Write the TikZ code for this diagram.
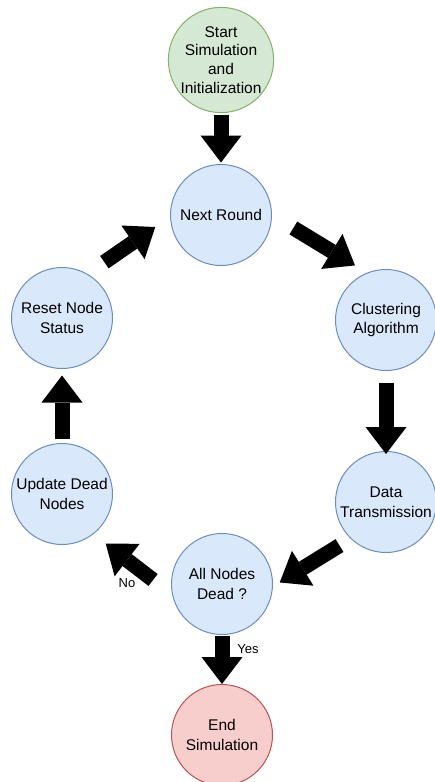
\documentclass[tikz,border=0pt]{standalone}
\usepackage{fontspec}
\setmainfont{Liberation Sans}
\usepackage{tikz}
\usepackage{xcolor}
\usetikzlibrary{arrows.meta}
\definecolor{gfill}{HTML}{D5E8D4}
\definecolor{gline}{HTML}{82B366}
\definecolor{bfill}{HTML}{DAE8FC}
\definecolor{bline}{HTML}{6C8EBF}
\definecolor{rfill}{HTML}{F8CECC}
\definecolor{rline}{HTML}{B85450}
\tikzstyle{stateS}	=[circle,draw=gline,fill=gfill,line width=1pt,minimum size=101pt,inner sep=0pt,align=center,font=\fontsize{15.5}{18.7}\selectfont]
\tikzstyle{stateB}	=[circle,draw=bline,fill=bfill,line width=1pt,minimum size=101pt,inner sep=0pt,align=center,font=\fontsize{15.5}{19.5}\selectfont]
\tikzstyle{stateE}	=[circle,draw=rline,fill=rfill,line width=1pt,minimum size=101pt,inner sep=0pt,align=center,font=\fontsize{15.5}{19.5}\selectfont]
\tikzstyle{lbl}		=[inner sep=0pt,font=\fontsize{13}{15}\selectfont]
\tikzstyle{edgeB} 	= [draw=black,line width=15pt,-{Triangle[length=27pt,width=41pt,line width=0pt]}]

\begin{document}
\begin{tikzpicture}[x=1pt,y=-1pt]
   		\useasboundingbox (0,0) rectangle (435,782);
   		
   		%%%%% States
   		\node[stateS] (st) at (221,60) {Start\\Simulation\\and\\Initialization};
   		\node[stateB] (nr) at (221,215) {Next Round};
   		\node[stateB] (ca) at (386,320) {Clustering\\Algorithm};
   		\node[stateB] (dt) at (386,502) {Data\\Transmission};
   		\node[stateB] (and) at (222,584) {All Nodes\\Dead ?};
   		\node[stateE] (es) at (222,735) {End\\Simulation};
   		\node[stateB] (udn) at (62,494) {Update Dead\\Nodes};
   		\node[stateB] (rns) at (62,318) {Reset Node\\Status};
   		
   		%%%% Labels
   		\node[lbl] (no) at (127,583) {No};
   		\node[lbl] (yes) at (248,649) {Yes};
   		
   		%%%% Flow
   		\foreach \source/\dest/\sa/\sb in {st.south/nr.north/1.5/1.5, nr.0/ca.112/25/14, ca.south/dt.north/11.5/-3, dt.226/and.-3/13/8}
   		\path[edgeB,shorten <=\sa pt,shorten >=\sb pt] (\source) -- (\dest) ;
   		\foreach \source/\dest/\sa/\sb in {and.192/udn.-52/24/15.5, udn.north/rns.south/4.5/6.5, rns.60/nr.182/20.5/18, and.south/es.north/0.5/0}
   		\path[edgeB,shorten <=\sa pt,shorten >=\sb pt] (\source) -- (\dest) ;
   		\end{tikzpicture}
\end{document}
